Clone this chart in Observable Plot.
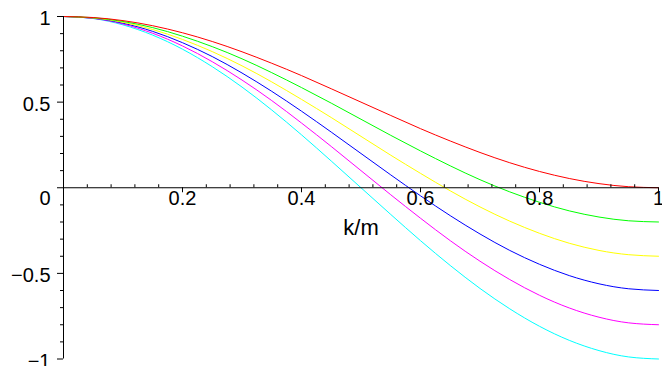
<!DOCTYPE html>
<html><head><meta charset="utf-8">
<script src="https://cdn.jsdelivr.net/npm/d3@7"></script>
<script src="https://cdn.jsdelivr.net/npm/@observablehq/plot@0.6"></script>
<style>html,body{margin:0;padding:0;background:#fff} svg{display:block}</style>
</head><body><div id="chart"></div>
<script>
const kOverM = [0,0.05,0.1,0.15,0.2,0.25,0.3,0.35,0.4,0.45,0.5,0.55,0.6,0.65,0.7,0.75,0.8,0.85,0.9,0.95,1];
const redValues     = [1,0.994,0.976,0.946,0.905,0.854,0.794,0.727,0.655,0.578,0.5,0.422,0.345,0.273,0.206,0.146,0.095,0.054,0.024,0.006,0];
const greenValues   = [1,0.993,0.971,0.935,0.885,0.824,0.753,0.672,0.585,0.494,0.4,0.306,0.215,0.128,0.047,-0.024,-0.085,-0.135,-0.171,-0.193,-0.2];
const yellowValues  = [1,0.991,0.966,0.924,0.866,0.795,0.712,0.618,0.516,0.410,0.3,0.190,0.084,-0.018,-0.112,-0.195,-0.266,-0.324,-0.366,-0.391,-0.4];
const blueValues    = [1,0.990,0.961,0.913,0.847,0.766,0.670,0.563,0.447,0.325,0.2,0.075,-0.047,-0.163,-0.270,-0.366,-0.447,-0.513,-0.561,-0.590,-0.6];
const magentaValues = [1,0.989,0.956,0.902,0.828,0.736,0.629,0.509,0.378,0.241,0.1,-0.041,-0.178,-0.309,-0.429,-0.536,-0.628,-0.702,-0.756,-0.789,-0.8];
const cyanValues    = [1,0.988,0.951,0.891,0.809,0.707,0.588,0.454,0.309,0.156,0,-0.156,-0.309,-0.454,-0.588,-0.707,-0.809,-0.891,-0.951,-0.988,-1];

const seriesNames  = ["curve6","curve5","curve4","curve3","curve2","curve1"];
const seriesValues = [cyanValues, magentaValues, blueValues, yellowValues, greenValues, redValues];
const seriesColors = ["#00ffff","#ff00ff","#0000ff","#ffff00","#00ff00","#ff0000"];

const xTickValues = [0.2,0.4,0.6,0.8,1];
const xTickLabels = ["0.2","0.4","0.6","0.8","1"];
const yTickValues = [1,0.5,-0.5,-1];
const yTickLabels = ["1","0.5","\u22120.5","\u22121"];
const originLabel = ["0"];
const xAxisLabel = ["k/m"];
const xMinorTicks = d3.range(1,25).map(i => i*0.04).filter(v => Math.abs(v/0.2 - Math.round(v/0.2)) > 1e-6);
const yMinorTicks = d3.range(-9,10).map(i => i*0.1).filter(v => Math.abs(v*2 - Math.round(v*2)) > 1e-6);

const rows = [];
seriesNames.forEach((s, j) => kOverM.forEach((k, i) => rows.push({k, v: seriesValues[j][i], s})));

const font = "'Liberation Sans', Arial, Helvetica, sans-serif";
const fs = 20;

const chart = Plot.plot({
  width: 662, height: 366,
  marginLeft: 63, marginRight: 4, marginTop: 16, marginBottom: 7.5,
  x: {domain: [0,1], axis: null},
  y: {domain: [-1,1], axis: null},
  color: {type: "ordinal", domain: seriesNames, range: seriesColors},
  style: {background: "#fff", overflow: "visible"},
  marks: [
    Plot.line(rows, {x: "k", y: "v", z: "s", stroke: "s", curve: "natural", strokeWidth: 1}),
    Plot.ruleY([0], {x1: 0, x2: 1, insetLeft: -6, stroke: "#000"}),
    Plot.ruleX([0], {y1: -1, y2: 1, stroke: "#000"}),
    Plot.ruleY(yTickValues, {y: d => d, x1: 0, x2: 0, insetLeft: -6, stroke: "#000"}),
    Plot.ruleY(yMinorTicks, {y: d => d, x1: 0, x2: 0, insetLeft: -3, stroke: "#000"}),
    Plot.ruleX(xTickValues, {x: d => d, y1: 0, y2: 0, insetBottom: -5, stroke: "#000"}),
    Plot.ruleX(xMinorTicks, {x: d => d, y1: 0, y2: 0, insetTop: -3, stroke: "#000"}),
    Plot.text(yTickValues, {x: 0, y: d => d, text: (d, i) => yTickLabels[i], textAnchor: "end", dx: -13, dy: 2.5, fontSize: fs, fontFamily: font, fill: "#000"}),
    Plot.text(originLabel, {x: 0, y: 0, text: d => d, textAnchor: "end", dx: -13, dy: 11, fontSize: fs, fontFamily: font, fill: "#000"}),
    Plot.text(xTickValues, {x: d => d, y: 0, text: (d, i) => xTickLabels[i], dy: 11, fontSize: fs, fontFamily: font, fill: "#000"}),
    Plot.text(xAxisLabel, {y: 0, text: d => d, dy: 40, fontSize: 22, fontFamily: font, fill: "#000"})
  ]
});
document.getElementById("chart").append(chart);
</script>
</body></html>
